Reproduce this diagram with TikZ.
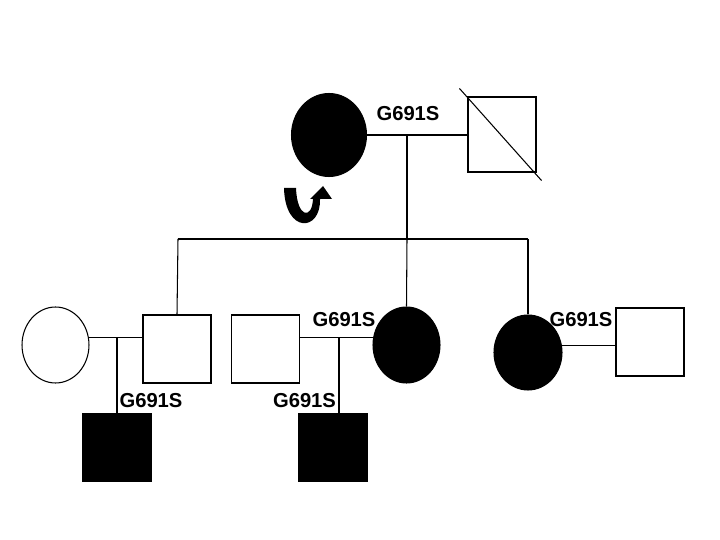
\documentclass[tikz,border=0pt]{standalone}
\usepackage{fontspec}
\setmainfont{Liberation Sans}
\usetikzlibrary{shapes.geometric,arrows.meta}

\begin{document}
\begin{tikzpicture}[
    x=0.02cm,
    y=-0.02cm,
    line width=0.6pt,
    female/.style={ellipse, draw, inner sep=0pt, minimum width=1.34cm, minimum height=1.52cm},
    male/.style={rectangle, draw, inner sep=0pt, minimum width=1.36cm, minimum height=1.36cm},
    affected/.style={fill=black},
    allele/.style={font=\fontsize{11.5}{12}\selectfont\bfseries, inner sep=0pt}
]
    \useasboundingbox (0,0) rectangle (720,540);

    % Draw the first generation
    \node[female, affected, minimum width=1.5cm, minimum height=1.66cm] (gm) at (329,135) {};
    \node[male, minimum height=1.5cm] (gf) at (502,134.5) {};
    \draw ([shift={(-8,-8)}]gf.north west) -- ([shift={(5,8)}]gf.south east);
    \draw (gm.east) -- (gm.east -| gf.west);
    \node[allele] (g1) at (408,114) {G691S};

    % Proband arrow
    \fill (284,188) .. controls (285,234) and (321,232) .. (320,199)
        -- (332,199) -- (323,186) -- (310,199) -- (313,199)
        .. controls (312,220) and (297,218) .. (296,188) -- cycle;

    % Define the sibship line
    \coordinate (m1) at (407,135);
    \coordinate (s1) at (407,239);
    \coordinate (sL) at (178,239);
    \coordinate (sR) at (528,239);
    \draw (m1) -- (s1);
    \draw (sL) -- (sR);

    % Draw the second generation
    \node[female] (wife1) at (55.5,345) {};
    \node[male] (son) at (177,349) {};
    \node[male] (hus1) at (265.5,349) {};
    \node[female, affected] (dau1) at (406.5,345) {};
    \node[female, affected, minimum width=1.36cm, minimum height=1.5cm] (dau2) at (528,352.5) {};
    \node[male] (hus2) at (650,342) {};
    \draw (sL) -- (son.north);
    \draw (s1) -- (dau1.north);
    \draw (sR) -- (dau2.north);

    % Marriage lines
    \draw (wife1.12) -- (wife1.12 -| son.west);
    \draw (hus1.east |- dau1.168) -- (dau1.168);
    \draw (dau2.12) -- (dau2.12 -| hus2.west);
    \node[allele] (g3) at (344,320) {G691S};
    \node[allele] (g4) at (581,320) {G691S};

    % Draw the third generation
    \node[male, affected] (kid1) at (117,447.5) {};
    \node[male, affected] (kid2) at (333,447.5) {};
    \coordinate (m2) at (117,338);
    \coordinate (m3) at (339,338);
    \draw (m2) -- (kid1.north);
    \draw (m3) -- (m3 |- kid2.north);
    \node[allele] (g2) at (151,401) {G691S};
    \node[allele] (g5) at (304.5,401) {G691S};

\end{tikzpicture}
\end{document}
